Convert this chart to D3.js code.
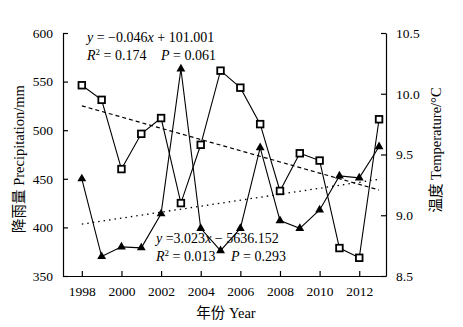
<!DOCTYPE html>
<html>
<head>
<meta charset="utf-8">
<script src="https://cdn.jsdelivr.net/npm/d3@7"></script>
<style>
  html, body { margin: 0; padding: 0; background: #fff; }
  svg { display: block; }
  text { font-family: "Liberation Serif", "Times New Roman", "Noto Sans CJK SC", serif; fill: #000; }
</style>
</head>
<body>
<svg id="chart" width="463" height="327"></svg>
<script>
// Annual series, 1998–2013
const years = [1998, 1999, 2000, 2001, 2002, 2003, 2004, 2005, 2006, 2007, 2008, 2009, 2010, 2011, 2012, 2013];
const precipitation = [450, 370, 380, 379, 414, 563, 399, 376, 399, 482, 407, 399, 418, 453, 451, 483];
const temperature = [10.07, 9.95, 9.38, 9.67, 9.80, 9.10, 9.58, 10.19, 10.05, 9.75, 9.20, 9.51, 9.45, 8.73, 8.65, 9.79];

const yearTicks = [1998, 2000, 2002, 2004, 2006, 2008, 2010, 2012];
const precipTicks = [350, 400, 450, 500, 550, 600];
const tempTicks = [8.5, 9.0, 9.5, 10.0, 10.5];

const tempEquation = ["y = −0.046x + 101.001", "R² = 0.174", "P = 0.061"];
const precipEquation = ["y =3.023x − 5636.152", "R² = 0.013", "P = 0.293"];

const svg = d3.select("#chart");
const plot = { left: 63, right: 386, top: 33, bottom: 276 };

const x = d3.scaleLinear().domain([1997.05, 2013.35]).range([plot.left, plot.right]);
const yL = d3.scaleLinear().domain([350, 600]).range([plot.bottom, plot.top]);
const yR = d3.scaleLinear().domain([8.5, 10.5]).range([plot.bottom, plot.top]);

// Axes with inward ticks
const axisStyle = g => {
  g.selectAll("path").attr("stroke", "#000").attr("stroke-width", 1.2);
  g.selectAll("line").attr("stroke", "#000").attr("stroke-width", 1.2);
  g.selectAll("text").style("font-size", "13.5px").attr("fill", "#000");
};

svg.append("g")
  .attr("transform", `translate(0,${plot.bottom})`)
  .call(d3.axisBottom(x).tickValues(yearTicks).tickFormat(d3.format("d")).tickSizeInner(-5).tickSizeOuter(0).tickPadding(10))
  .call(axisStyle);

svg.append("g")
  .attr("transform", `translate(${plot.left},0)`)
  .call(d3.axisLeft(yL).tickValues(precipTicks).tickFormat(d3.format("d")).tickSizeInner(-5).tickSizeOuter(0).tickPadding(10))
  .call(axisStyle);

svg.append("g")
  .attr("transform", `translate(${plot.right},0)`)
  .call(d3.axisRight(yR).tickValues(tempTicks).tickFormat(d3.format(".1f")).tickSizeInner(-5).tickSizeOuter(0).tickPadding(10))
  .call(axisStyle);

// Axis titles
svg.append("text")
  .attr("transform", `translate(24,159) rotate(-90)`)
  .attr("text-anchor", "middle")
  .style("font-size", "14.5px")
  .text("降雨量 Precipitation/mm");

svg.append("text")
  .attr("transform", `translate(441,150) rotate(-90)`)
  .attr("text-anchor", "middle")
  .style("font-size", "14.5px")
  .text("温度 Temperature/°C");

svg.append("text")
  .attr("x", 226).attr("y", 318)
  .attr("text-anchor", "middle")
  .style("font-size", "14.5px")
  .text("年份 Year");

// Least-squares trend for a series
function fit(xs, ys) {
  const mx = d3.mean(xs), my = d3.mean(ys);
  const b = d3.sum(xs, (v, i) => (v - mx) * (ys[i] - my)) / d3.sum(xs, v => (v - mx) ** 2);
  return v => my + b * (v - mx);
}
const tempFit = fit(years, temperature);
const precipFit = fit(years, precipitation);
const ends = d3.extent(years);

svg.append("line")
  .attr("x1", x(ends[0])).attr("y1", yR(tempFit(ends[0])))
  .attr("x2", x(ends[1])).attr("y2", yR(tempFit(ends[1])))
  .attr("stroke", "#000").attr("stroke-width", 1.2).attr("stroke-dasharray", "4,3");

svg.append("line")
  .attr("x1", x(ends[0])).attr("y1", yL(precipFit(ends[0])))
  .attr("x2", x(ends[1])).attr("y2", yL(precipFit(ends[1])))
  .attr("stroke", "#000").attr("stroke-width", 1.3).attr("stroke-dasharray", "1.5,4");

// Series lines
const precipLine = d3.line().x((d, i) => x(years[i])).y(d => yL(d));
const tempLine = d3.line().x((d, i) => x(years[i])).y(d => yR(d));

svg.append("path").datum(precipitation)
  .attr("d", precipLine).attr("fill", "none").attr("stroke", "#000").attr("stroke-width", 1.1);
svg.append("path").datum(temperature)
  .attr("d", tempLine).attr("fill", "none").attr("stroke", "#000").attr("stroke-width", 1.1);

// Markers
svg.append("g").selectAll("path").data(precipitation).join("path")
  .attr("transform", (d, i) => `translate(${x(years[i])},${yL(d)})`)
  .attr("d", d3.symbol(d3.symbolTriangle, 34))
  .attr("fill", "#000");

svg.append("g").selectAll("rect").data(temperature).join("rect")
  .attr("x", (d, i) => x(years[i]) - 3.3).attr("y", d => yR(d) - 3.3)
  .attr("width", 6.6).attr("height", 6.6)
  .attr("fill", "#fff").attr("stroke", "#000").attr("stroke-width", 1.8);

// Regression annotations
function annotate(eq, x0, y0, xP) {
  const g = svg.append("g").style("font-size", "14px");
  const l1 = g.append("text").attr("x", x0).attr("y", y0);
  l1.append("tspan").style("font-style", "italic").text("y");
  l1.append("tspan").text(eq[0].slice(1).replace("x", ""));
  // italic x inside the first line
  l1.selectAll("tspan").remove();
  const parts = eq[0].split("x");
  l1.append("tspan").style("font-style", "italic").text("y");
  l1.append("tspan").text(parts[0].slice(1));
  l1.append("tspan").style("font-style", "italic").text("x");
  l1.append("tspan").text(parts[1]);

  const l2 = g.append("text").attr("x", x0).attr("y", y0 + 18);
  l2.append("tspan").style("font-style", "italic").text("R");
  l2.append("tspan").attr("dy", -5).style("font-size", "9px").text("2");
  l2.append("tspan").attr("dy", 5).text(eq[1].slice(2));
  const l3 = g.append("text").attr("x", xP).attr("y", y0 + 18);
  l3.append("tspan").style("font-style", "italic").text("P");
  l3.append("tspan").text(eq[2].slice(1));
}
annotate(tempEquation, 87, 42, 161);
annotate(precipEquation, 156, 243, 231);
</script>
</body>
</html>
